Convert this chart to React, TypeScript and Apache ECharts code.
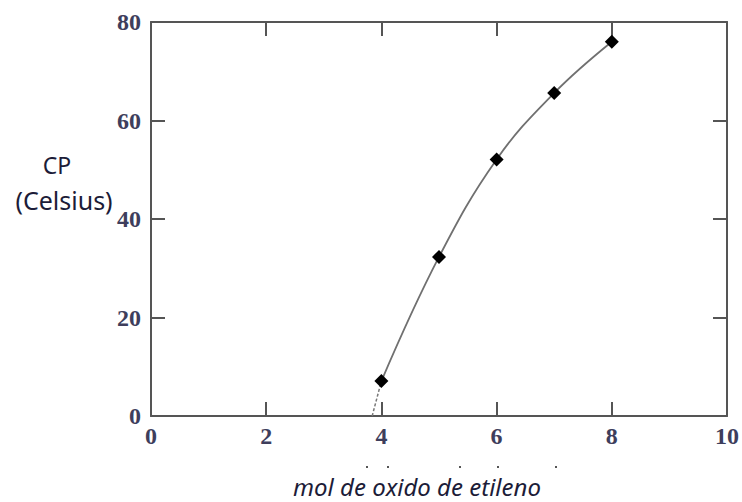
import React, { useEffect, useRef } from "react";
import * as echarts from "echarts";

const xTicks = [0, 2, 4, 6, 8, 10];
const yTicks = [0, 20, 40, 60, 80];
const molEO = [4, 5, 6, 7, 8];
const cloudPoint = [7.1, 32.3, 52.1, 65.6, 76.0];
const extrapX = [3.84, 4];
const extrapY = [0, 7.1];
const artifactDots = [367, 388, 460, 498, 556];

export default function App() {
  const ref = useRef<HTMLDivElement>(null);
  useEffect(() => {
    if (!ref.current) return;
    const chart = echarts.init(ref.current, null, { renderer: "svg" });
    const frame = "#555555";
    const labelColor = "#3e3e5c";
    const tickLabel = {
      color: labelColor,
      fontFamily: "Liberation Serif",
      fontSize: 24,
      fontWeight: "bold" as const,
    };
    const axisCommon = {
      axisLine: { show: true, onZero: false, lineStyle: { color: frame, width: 2 } },
      axisTick: { show: true, inside: true, length: 14, lineStyle: { color: frame, width: 2 } },
      splitLine: { show: false },
    };
    chart.setOption({
      animation: false,
      grid: { left: 151, top: 22, right: 14, bottom: 86, show: false },
      xAxis: [
        {
          type: "value",
          min: xTicks[0],
          max: xTicks[xTicks.length - 1],
          interval: 2,
          position: "bottom",
          ...axisCommon,
          axisLabel: { ...tickLabel, margin: 8 },
        },
        {
          type: "value",
          min: xTicks[0],
          max: xTicks[xTicks.length - 1],
          interval: 2,
          position: "top",
          ...axisCommon,
          axisLabel: { show: false },
        },
      ],
      yAxis: [
        {
          type: "value",
          min: yTicks[0],
          max: yTicks[yTicks.length - 1],
          interval: 20,
          position: "left",
          ...axisCommon,
          axisLabel: { ...tickLabel, margin: 10 },
        },
        {
          type: "value",
          min: yTicks[0],
          max: yTicks[yTicks.length - 1],
          interval: 20,
          position: "right",
          ...axisCommon,
          axisLabel: { show: false },
        },
      ],
      series: [
        {
          type: "line",
          data: extrapX.map((x, i) => [x, extrapY[i]]),
          showSymbol: false,
          symbol: "none",
          lineStyle: { color: "#777777", width: 1.5, type: [3, 2] },
          z: 2,
        },
        {
          type: "line",
          data: molEO.map((x, i) => [x, cloudPoint[i]]),
          smooth: 0.4,
          symbol: "diamond",
          symbolSize: 14,
          itemStyle: { color: "#000000" },
          lineStyle: { color: "#707070", width: 1.8 },
          z: 3,
        },
      ],
      graphic: [
        {
          type: "text",
          x: 57,
          y: 165,
          style: {
            text: "CP",
            font: "23px 'Noto Sans'",
            fill: "#1c1c38",
            align: "center",
            verticalAlign: "middle",
          },
        },
        {
          type: "text",
          x: 64,
          y: 200,
          style: {
            text: "(Celsius)",
            font: "25px 'Noto Sans'",
            fill: "#1c1c38",
            align: "center",
            verticalAlign: "middle",
          },
        },
        {
          type: "text",
          x: 417,
          y: 486,
          style: {
            text: "mol de oxido de etileno",
            font: "italic 24px 'Noto Sans'",
            fill: "#1c1c38",
            align: "center",
            verticalAlign: "middle",
          },
        },
        ...artifactDots.map((x) => ({
          type: "rect",
          shape: { x: x - 1, y: 466, width: 2, height: 2 },
          style: { fill: "#555555" },
        })),
      ],
    });
    return () => chart.dispose();
  }, []);
  return (
    <div
      ref={ref}
      style={{ position: "absolute", left: 0, top: 0, width: 742, height: 502 }}
    />
  );
}
